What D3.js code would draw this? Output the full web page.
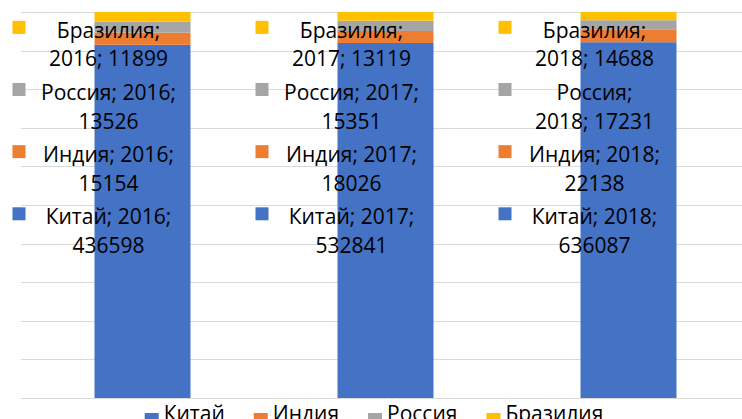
<!DOCTYPE html>
<html>
<head>
<meta charset="utf-8">
<script src="https://cdn.jsdelivr.net/npm/d3@7"></script>
<style>
  body { margin: 0; background: #fff; overflow: hidden; }
  text { font-family: "Open Sans", "Noto Sans", sans-serif; fill: #000; }
</style>
</head>
<body>
<svg id="chart" width="742" height="419"></svg>
<script>
// data
var years = ["2016", "2017", "2018"];
var seriesNames = ["Китай", "Индия", "Россия", "Бразилия"];
var china = [436598, 532841, 636087];
var india = [15154, 18026, 22138];
var russia = [13526, 15351, 17231];
var brazil = [11899, 13119, 14688];
var gridTicks = d3.range(0, 11).map(function (d) { return d / 10; });

var seriesColors = ["#4472C4", "#ED7D31", "#A5A5A5", "#FFC000"];

var svg = d3.select("#chart");
var fontSize = 21;

// plot area runs off the right edge, like in the reference
var plot = {left: 21, right: 750, top: 12, bottom: 398};

var rows = years.map(function (yr, i) {
    return {year: yr, "Китай": china[i], "Индия": india[i], "Россия": russia[i], "Бразилия": brazil[i]};
});
var stacked = d3.stack().keys(seriesNames).offset(d3.stackOffsetExpand)(rows);

var x = d3.scaleBand().domain(years).range([plot.left, plot.right]).padding(0);
var y = d3.scaleLinear().domain([0, 1]).range([plot.bottom, plot.top]);
var color = d3.scaleOrdinal().domain(seriesNames).range(seriesColors);
var barW = x.bandwidth() * 0.395;

// gridlines
svg.append("g").selectAll("line").data(gridTicks).enter().append("line")
    .attr("x1", plot.left).attr("x2", plot.right)
    .attr("y1", function (d) { return Math.round(y(d)) + 0.5; })
    .attr("y2", function (d) { return Math.round(y(d)) + 0.5; })
    .attr("stroke", "#d9d9d9").attr("stroke-width", 1);

// bars
var barG = svg.append("g");
stacked.forEach(function (layer) {
    barG.selectAll(null).data(layer).enter().append("rect")
        .attr("x", function (d) { return x(d.data.year) + (x.bandwidth() - barW) / 2; })
        .attr("width", barW)
        .attr("y", function (d) { return y(d[1]); })
        .attr("height", function (d) { return y(d[0]) - y(d[1]); })
        .attr("fill", color(layer.key));
});

// data labels with legend keys, stacked to the left of each bar
var labelG = svg.append("g");
var wrapWidth = [150, 150, 134];

function measure(str) {
    var t = labelG.append("text").style("font-size", fontSize + "px").text(str);
    var w = t.node().getComputedTextLength();
    t.remove();
    return w;
}

function wrapWords(words, maxW) {
    var lines = [];
    var cur = "";
    words.forEach(function (w) {
        var test = cur ? cur + " " + w : w;
        if (cur && measure(test) > maxW) {
            lines.push(cur);
            cur = w;
        } else {
            cur = test;
        }
    });
    lines.push(cur);
    return lines;
}

stacked.forEach(function (layer, si) {
    var k = seriesNames.length - 1 - si;
    var base = y(0.933 - k * 0.161);
    layer.forEach(function (d, ci) {
        var cx = x(d.data.year) + x.bandwidth() / 2 - 34;
        var value = d.data[layer.key];
        var lines = wrapWords([layer.key + ";", d.data.year + ";", String(value)], wrapWidth[ci]);

        labelG.append("rect")
            .attr("x", cx - 96).attr("y", base - 17)
            .attr("width", 13).attr("height", 13)
            .attr("fill", color(layer.key));

        var t = labelG.append("text")
            .attr("text-anchor", "middle")
            .style("font-size", fontSize + "px");
        lines.forEach(function (ln, li) {
            t.append("tspan").attr("x", cx).attr("y", base + li * 28.5).text(ln);
        });
    });
});

// legend at the bottom
var legendG = svg.append("g");
var items = [];
var lx = 0;
var legendGap = 29;
seriesNames.forEach(function (name) {
    var w = measure(name);
    items.push({name: name, x: lx, w: w});
    lx += 14 + 5 + w + legendGap;
});
var legendW = lx - legendGap;
var legendLeft = 374 - legendW / 2;
items.forEach(function (it) {
    legendG.append("rect")
        .attr("x", legendLeft + it.x).attr("y", 413)
        .attr("width", 14).attr("height", 14)
        .attr("fill", color(it.name));
    legendG.append("text")
        .attr("x", legendLeft + it.x + 19).attr("y", 421)
        .style("font-size", fontSize + "px")
        .text(it.name);
});
</script>
</body>
</html>
